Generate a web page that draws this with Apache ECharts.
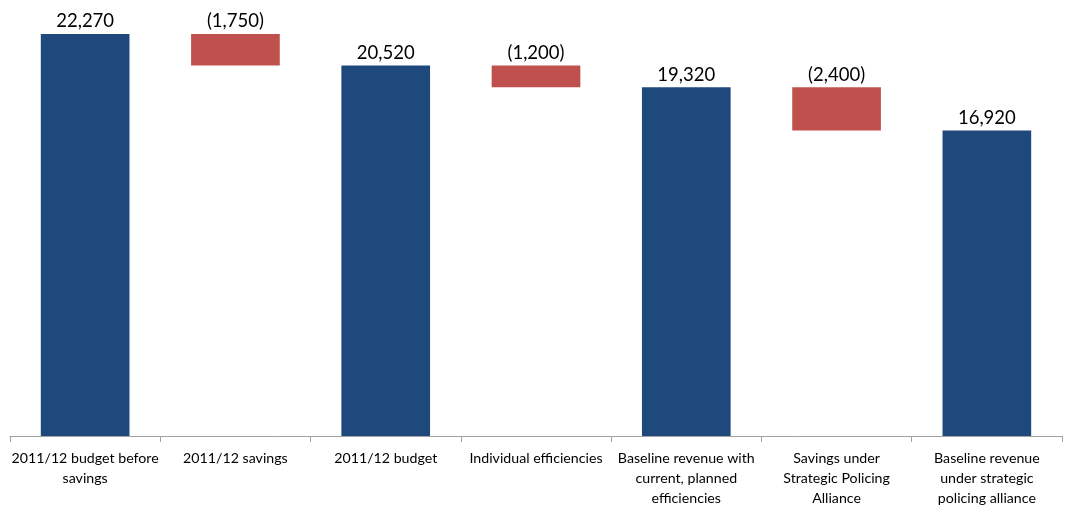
<!DOCTYPE html>
<html><head><meta charset="utf-8">
<script src="https://cdn.jsdelivr.net/npm/echarts@6/dist/echarts.min.js"></script>
<style>html,body{margin:0;padding:0;background:#fff}#c{width:1066px;height:508px}</style>
</head><body><div id="c"></div>
<script>
const categories = ["2011/12 budget before\nsavings","2011/12 savings","2011/12 budget","Individual efficiencies","Baseline revenue with\ncurrent, planned\nefficiencies","Savings under\nStrategic Policing\nAlliance","Baseline revenue\nunder strategic\npolicing alliance"];
const totals = [22270, null, 20520, null, 19320, null, 16920];
const savings = [null, 1750, null, 1200, null, 2400, null];
const fmt = v => v.toLocaleString('en-US');
// helper base for savings bars: the running total after the saving
const base = [];
let run = 0;
for (let i = 0; i < categories.length; i++) {
  if (totals[i] != null) { run = totals[i]; base.push(null); }
  else { run = run - savings[i]; base.push(run); }
}
const chart = echarts.init(document.getElementById('c'));
chart.setOption({
  animation: false,
  grid: {left: 10, right: 4, top: 34, bottom: 68},
  xAxis: {
    type: 'category', data: categories,
    axisLine: {lineStyle: {color: '#A0A0A0'}},
    axisTick: {show: true, alignWithLabel: false, length: 6, lineStyle: {color: '#A0A0A0'}},
    axisLabel: {interval: 0, color: '#000', fontFamily: 'Lato', fontSize: 14.2, lineHeight: 20, margin: 12}
  },
  yAxis: {type: 'value', min: 0, max: 22270, show: false, splitLine: {show: false}},
  series: [
    {type: 'bar', stack: 'w', data: base, barWidth: '59%', itemStyle: {color: 'transparent'}, silent: true},
    {type: 'bar', stack: 'w', data: savings, barWidth: '59%', itemStyle: {color: '#C0504D'},
     label: {show: true, position: 'top', distance: 3, color: '#000', fontFamily: 'Lato', fontSize: 18.5, formatter: p => '(' + fmt(p.value) + ')'}},
    {type: 'bar', stack: 'w', data: totals, barWidth: '59%', itemStyle: {color: '#1F497D'},
     label: {show: true, position: 'top', distance: 3, color: '#000', fontFamily: 'Lato', fontSize: 18.5, formatter: p => fmt(p.value)}}
  ]
});
</script></body></html>
